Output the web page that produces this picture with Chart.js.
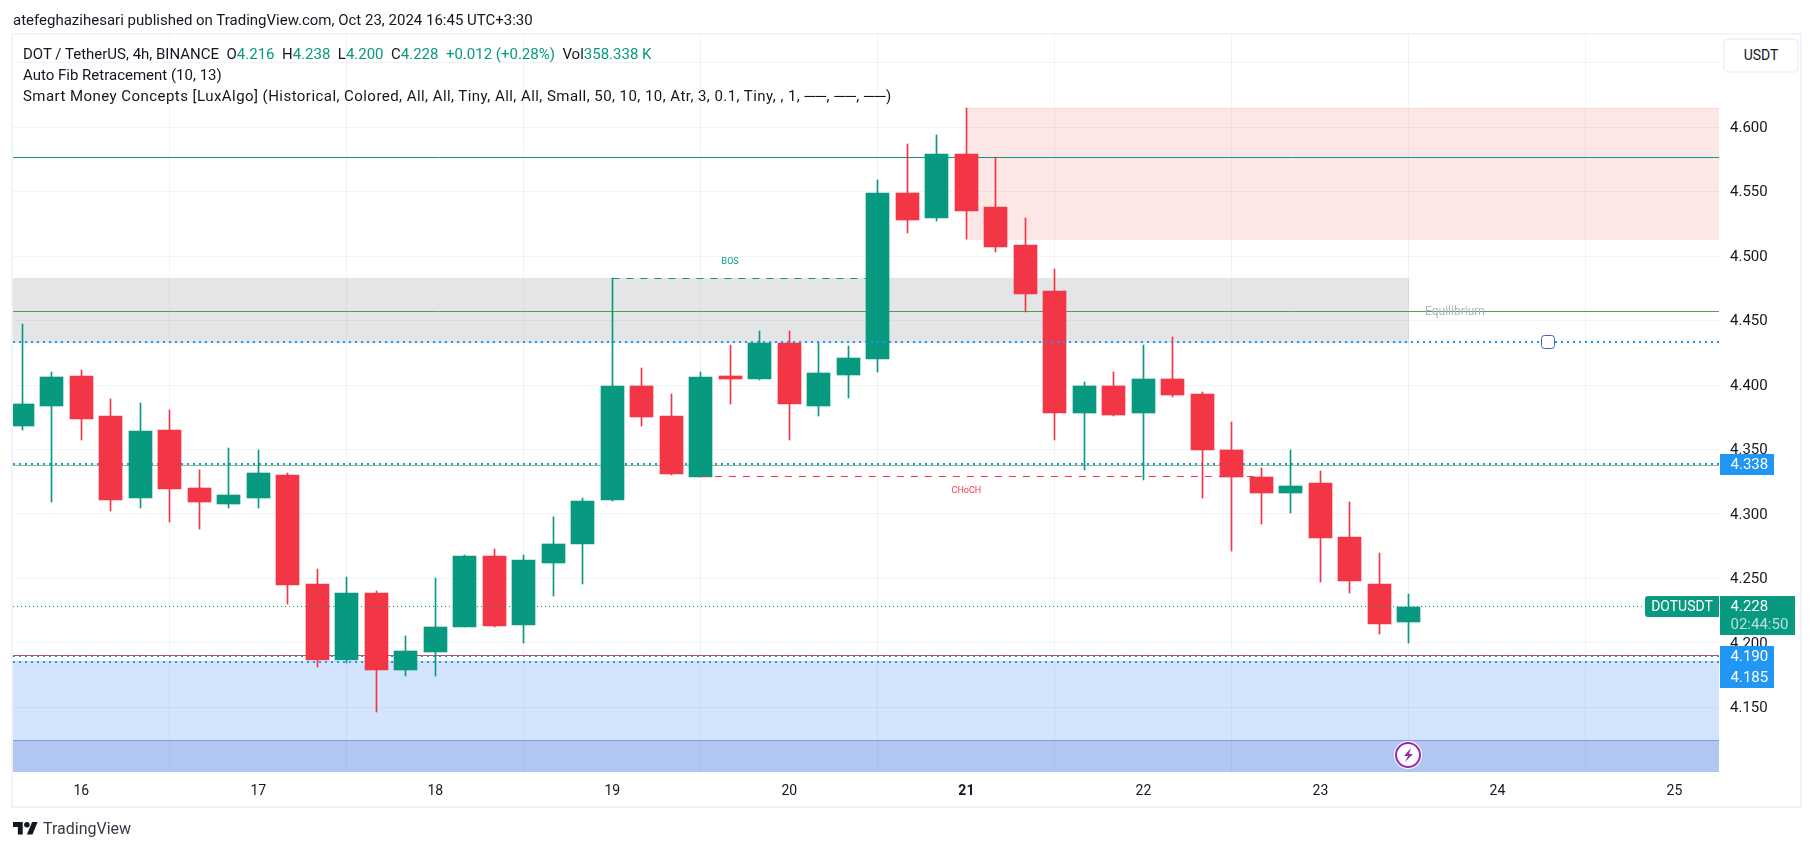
<!DOCTYPE html>
<html>
<head>
<meta charset="utf-8">
<title>DOTUSDT 4h</title>
<script src="https://cdn.jsdelivr.net/npm/chart.js@4"></script>
<style>
  html, body { margin: 0; padding: 0; background: #fff; overflow: hidden; }
  body { width: 1814px; height: 851px; position: relative; font-family: Roboto, sans-serif; color: #131722; }
  canvas { position: absolute; left: 0; top: 0; }
  .txt { position: absolute; white-space: nowrap; font-size: 15px; line-height: 18px; }
  .up { color: #089981; }
  #frame { position: absolute; left: 11px; top: 33px; width: 1787px; height: 771px; border: 2px solid #f0f3fa; pointer-events: none; }
  #unit { position: absolute; left: 1723px; top: 38px; width: 72px; height: 31px; border: 2px solid #f0f3fa; border-radius: 6px; background: #fff; font-size: 14px; line-height: 31px; text-align: center; color: #131722; }
  #logo { position: absolute; left: 13px; top: 819px; }
  #brand { position: absolute; left: 43px; top: 819px; font-size: 16px; line-height: 20px; color: #363a45; }
  #bolt { position: absolute; left: 1392px; top: 739px; }
</style>
</head>
<body>
<canvas id="chart" width="1814" height="851"></canvas>
<div id="frame"></div>
<div class="txt" style="left:13px;top:11px">atefeghazihesari published on TradingView.com, Oct 23, 2024 16:45 UTC+3:30</div>
<div class="txt" style="left:23px;top:45px">DOT / TetherUS, 4h, BINANCE&nbsp; O<span class="up">4.216</span>&nbsp; H<span class="up">4.238</span>&nbsp; L<span class="up">4.200</span>&nbsp; C<span class="up">4.228</span>&nbsp; <span class="up">+0.012 (+0.28%)</span>&nbsp; Vol<span class="up">358.338 K</span></div>
<div class="txt" style="left:23px;top:66px">Auto Fib Retracement (10, 13)</div>
<div class="txt" style="left:23px;top:87px;letter-spacing:0.45px">Smart Money Concepts [LuxAlgo] (Historical, Colored, All, All, Tiny, All, All, Small, 50, 10, 10, Atr, 3, 0.1, Tiny, , 1, ──, ──, ──)</div>
<div id="unit">USDT</div>
<svg id="logo" width="25" height="20" viewBox="0 0 36 28"><path fill="#131722" d="M14 22H7V11H0V4h14v18zM28 22h-8l7.5-18h8L28 22z"/><circle fill="#131722" cx="20" cy="8" r="4"/></svg>
<div id="brand">TradingView</div>
<svg id="bolt" width="32" height="32" viewBox="0 0 32 32"><circle cx="16" cy="16" r="14" fill="#fff"/><circle cx="16" cy="16" r="12" fill="#fff" stroke="#9c27b0" stroke-width="2"/><path fill="#9c27b0" d="M19 9l-7 8h4l-3 6 8-8h-4z"/></svg>
<script>
// 4h candles
const opens  = [4.368,4.384,4.407,4.376,4.312,4.365,4.320,4.308,4.312,4.330,4.246,4.187,4.239,4.179,4.193,4.212,4.267,4.214,4.262,4.277,4.311,4.399,4.376,4.329,4.407,4.405,4.433,4.384,4.408,4.420,4.549,4.530,4.579,4.538,4.509,4.473,4.378,4.399,4.378,4.405,4.393,4.350,4.329,4.316,4.324,4.282,4.246,4.216];
const highs  = [4.447,4.410,4.412,4.389,4.386,4.381,4.334,4.351,4.350,4.332,4.257,4.251,4.240,4.205,4.250,4.268,4.273,4.268,4.298,4.312,4.483,4.413,4.393,4.410,4.431,4.442,4.442,4.433,4.430,4.559,4.587,4.594,4.615,4.577,4.530,4.490,4.402,4.410,4.431,4.437,4.395,4.371,4.336,4.350,4.333,4.309,4.270,4.238];
const lows   = [4.365,4.309,4.357,4.302,4.305,4.294,4.288,4.305,4.305,4.230,4.181,4.184,4.146,4.174,4.174,4.212,4.212,4.200,4.236,4.246,4.310,4.368,4.330,4.329,4.385,4.404,4.357,4.376,4.390,4.410,4.518,4.527,4.513,4.503,4.457,4.357,4.334,4.376,4.326,4.391,4.312,4.271,4.292,4.301,4.247,4.239,4.207,4.200];
const closes = [4.385,4.406,4.374,4.311,4.364,4.319,4.309,4.315,4.332,4.245,4.187,4.239,4.179,4.194,4.212,4.267,4.213,4.264,4.277,4.310,4.399,4.375,4.331,4.406,4.405,4.433,4.385,4.409,4.421,4.549,4.528,4.579,4.535,4.507,4.471,4.378,4.399,4.377,4.405,4.392,4.350,4.329,4.316,4.322,4.281,4.248,4.215,4.228];

const dayIndex  = [2, 8, 14, 20, 26, 32, 38, 44, 50, 56];
const dayLabels = ["16", "17", "18", "19", "20", "21", "22", "23", "24", "25"];
const priceTicks = [4.15, 4.20, 4.25, 4.30, 4.35, 4.40, 4.45, 4.50, 4.55, 4.60, 4.65];

// visible range of both axes
const xMin = -0.315, xMax = 57.51;
const yMin = 4.0998, yMax = 4.6716;

// levels
const fibTop = 4.5768, eqLine = 4.457, fibUpper = 4.4337, fibMid = 4.339, midLine = 4.3378, lastPrice = 4.228, fibLow = 4.190, redLine = 4.1903, fibBottom = 4.1855;
const bosLevel = 4.4829, bosFrom = 20, bosTo = 29;
const chochLevel = 4.3293, chochFrom = 23, chochTo = 42;

// zones: [from, to, low, high]
const premiumZone = [32, xMax, 4.5128, 4.615];
const equilibriumZone = [xMin, 47, 4.433, 4.483];
const discountZone = [xMin, xMax, yMin, 4.186];
const bottomZone = [xMin, xMax, yMin, 4.125];

const UP = "#089981", DOWN = "#f23645", BLUE = "#2196f3";
const FONT = "Roboto, sans-serif";

function level(value, color, width, dash, order, from, to) {
  return {
    type: "line",
    data: [{ x: from === undefined ? xMin : from, y: value }, { x: to === undefined ? xMax : to, y: value }],
    borderColor: color, borderWidth: width, borderDash: dash || [],
    pointRadius: 0, order: order
  };
}

// keep candles and levels on whole pixels like the original
const snapPlugin = {
  id: "snap",
  afterDatasetsUpdate(chart) {
    chart.getSortedVisibleDatasetMetas().forEach(function (meta) {
      const ds = chart.data.datasets[meta.index];
      meta.data.forEach(function (el) {
        if (meta.type === "bar") {
          el.x = Math.floor(el.x) + 0.5;
          el.y = Math.round(el.y);
          el.base = Math.round(el.base);
        } else {
          el.y = ds.borderWidth % 2 ? Math.floor(el.y) + 0.5 : Math.round(el.y);
        }
      });
    });
  }
};

function drawZone(chart, zone, fill, edge) {
  const x = chart.scales.x, y = chart.scales.y, ctx = chart.ctx;
  const l = Math.round(x.getPixelForValue(zone[0])), r = Math.round(x.getPixelForValue(zone[1]));
  const t = Math.round(y.getPixelForValue(zone[3])), b = Math.round(y.getPixelForValue(zone[2]));
  ctx.fillStyle = fill;
  ctx.fillRect(l, t, r - l, b - t);
  if (edge) {
    ctx.fillStyle = edge;
    ctx.fillRect(l, t, r - l, 1);
  }
}

const zonesPlugin = {
  id: "zones",
  beforeDatasetsDraw(chart) {
    drawZone(chart, premiumZone, "rgba(240,60,60,0.13)", "rgba(242,54,69,0.10)");
    drawZone(chart, equilibriumZone, "rgba(120,123,134,0.2)");
    drawZone(chart, discountZone, "rgba(33,110,245,0.19)", "rgba(41,98,255,0.08)");
    drawZone(chart, bottomZone, "rgba(41,80,200,0.20)", "rgba(41,80,200,0.35)");
  }
};

const labelsPlugin = {
  id: "labels",
  afterDatasetsDraw(chart) {
    const x = chart.scales.x, y = chart.scales.y, ctx = chart.ctx;
    ctx.save();
    ctx.textBaseline = "middle";
    ctx.font = "9px " + FONT;
    ctx.textAlign = "center";
    ctx.fillStyle = UP;
    ctx.fillText("BOS", x.getPixelForValue((bosFrom + bosTo) / 2) - 15, y.getPixelForValue(bosLevel) - 16);
    ctx.fillStyle = DOWN;
    ctx.fillText("CHoCH", x.getPixelForValue(32), y.getPixelForValue(chochLevel) + 15);
    ctx.font = "12px " + FONT;
    ctx.fillStyle = "#b2b5be";
    ctx.fillText("Equilibrium", x.getPixelForValue(47) + 46, y.getPixelForValue(eqLine));

    // drag handle on the upper fib level
    const hy = Math.round(y.getPixelForValue(fibUpper));
    ctx.beginPath();
    ctx.roundRect(1541.5, hy - 6.5, 13, 13, 3);
    ctx.fillStyle = "#fff";
    ctx.fill();
    ctx.strokeStyle = "#3f62d0";
    ctx.lineWidth = 1;
    ctx.stroke();

    // price tags on the right axis
    const left = x.right + 1;
    let bottomEdge = -1;
    ctx.textAlign = "left";
    ctx.font = "15px " + FONT;
    [[fibMid, "4.338"], [fibLow, "4.190"], [fibBottom, "4.185"]].forEach(function (tag) {
      let top = Math.round(y.getPixelForValue(tag[0])) - 10;
      if (top < bottomEdge) top = bottomEdge;
      ctx.fillStyle = BLUE;
      ctx.fillRect(left, top, 54, 21);
      ctx.fillStyle = "#fff";
      ctx.fillText(tag[1], left + 10.5, top + 11);
      bottomEdge = top + 21;
    });
    const lastTop = Math.round(y.getPixelForValue(lastPrice)) - 11;
    ctx.fillStyle = UP;
    ctx.fillRect(left, lastTop, 75, 39);
    ctx.fillStyle = "#fff";
    ctx.fillText("4.228", left + 10.5, lastTop + 11);
    ctx.fillStyle = "rgba(255,255,255,0.7)";
    ctx.fillText("02:44:50", left + 10.5, lastTop + 29);
    ctx.beginPath();
    ctx.roundRect(x.right - 74, lastTop, 74, 21, [3, 0, 0, 3]);
    ctx.fillStyle = UP;
    ctx.fill();
    ctx.fillStyle = "#fff";
    ctx.font = "14px " + FONT;
    ctx.textAlign = "center";
    ctx.fillText("DOTUSDT", x.right - 37, lastTop + 11);
    ctx.restore();
  }
};

const chart = new Chart(document.getElementById("chart"), {
  type: "bar",
  plugins: [snapPlugin, zonesPlugin, labelsPlugin],
  data: {
    datasets: [
      level(fibTop, UP, 1, [], 6),
      level(eqLine, "#4f9f55", 1, [], 6),
      level(midLine, "#86bf88", 1, [], 6),
      level(fibMid, BLUE, 2, [2, 4], 5),
      level(fibLow, BLUE, 2, [2, 4], 5),
      level(redLine, DOWN, 1, [], 5),
      level(fibBottom, BLUE, 2, [2, 4], 5),
      {
        label: "wicks",
        data: opens.map((o, i) => ({ x: i, y: [lows[i], highs[i]] })),
        backgroundColor: closes.map((c, i) => (c >= opens[i] ? UP : DOWN)),
        barThickness: 1, grouped: false, order: 4
      },
      {
        label: "bodies",
        data: opens.map((o, i) => ({ x: i, y: [o, closes[i]] })),
        backgroundColor: closes.map((c, i) => (c >= opens[i] ? UP : DOWN)),
        barThickness: 23, grouped: false, order: 3
      },
      level(bosLevel, UP, 1, [7, 7], 2, bosFrom, bosTo),
      level(chochLevel, DOWN, 1, [7, 7], 2, chochFrom, chochTo),
      level(fibUpper, BLUE, 2, [2, 4], 1),
      level(lastPrice, UP, 1, [1, 3], 1)
    ]
  },
  options: {
    responsive: false,
    animation: false,
    layout: { padding: { left: 13, right: 0, top: 35, bottom: 44 } },
    plugins: { legend: { display: false }, tooltip: { enabled: false } },
    scales: {
      x: {
        type: "linear", min: xMin, max: xMax, offset: false,
        grid: { color: "rgba(42,46,57,0.06)", drawTicks: false },
        border: { display: false },
        afterBuildTicks(scale) { scale.ticks = dayIndex.map(v => ({ value: v })); },
        afterFit(scale) { scale.height = 35; },
        ticks: {
          autoSkip: false, maxRotation: 0, padding: 11, color: "#131722",
          font: ctx => ({ family: FONT, size: 14, weight: ctx.tick && ctx.tick.value === 32 ? "bold" : "normal" }),
          callback: v => dayLabels[dayIndex.indexOf(v)]
        }
      },
      y: {
        position: "right", min: yMin, max: yMax,
        grid: { color: "rgba(42,46,57,0.06)", drawTicks: false },
        border: { display: false },
        afterBuildTicks(scale) { scale.ticks = priceTicks.map(v => ({ value: v })); },
        afterFit(scale) { scale.width = 95; },
        ticks: {
          padding: 11, labelOffset: 1, color: "#131722", font: { family: FONT, size: 15 },
          callback: v => v.toFixed(3)
        }
      }
    }
  }
});
</script>
</body>
</html>
